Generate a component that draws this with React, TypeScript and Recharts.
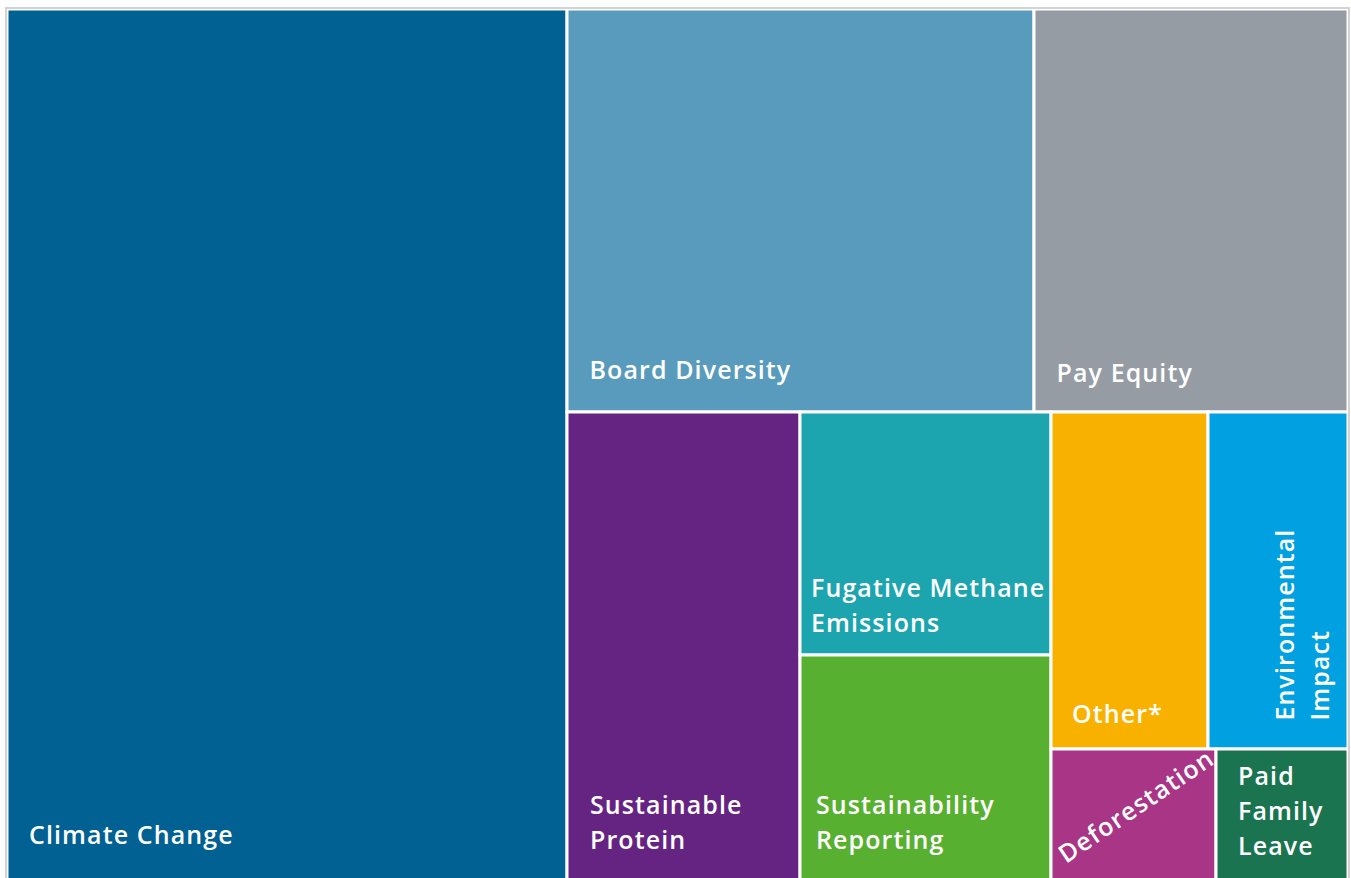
import React from 'react';
import { Treemap } from 'recharts';

// Topics and their share of proposals (percent)
const topicNames = [
  'Climate Change',
  'Board Diversity',
  'Pay Equity',
  'Sustainable Protein',
  'Fugative Methane Emissions',
  'Sustainability Reporting',
  'Other*',
  'Environmental Impact',
  'Deforestation',
  'Paid Family Leave',
];
const topicShares = [41.72, 16.06, 10.81, 9.36, 5.21, 4.88, 4.52, 4.04, 1.88, 1.51];

// grouping of the layout (indexes into the arrays above)
const topLevel = [0, 1, 2];
const midGroup = [3];
const smallGroup = [4, 5, 6, 7, 8, 9];

const leaf = (i: number) => ({ name: topicNames[i], value: topicShares[i] });
const treeData = [
  ...topLevel.map(leaf),
  {
    name: 'rest',
    children: [...midGroup.map(leaf), { name: 'small', children: smallGroup.map(leaf) }],
  },
];

const tileColors: Record<string, string> = {
  'Climate Change': '#006192',
  'Board Diversity': '#589bbc',
  'Pay Equity': '#969ca3',
  'Sustainable Protein': '#662482',
  'Fugative Methane Emissions': '#1ca5ae',
  'Sustainability Reporting': '#58b031',
  'Other*': '#f9b100',
  'Environmental Impact': '#00a0e1',
  'Deforestation': '#a83586',
  'Paid Family Leave': '#1a7450',
};

const labelLines: Record<string, string[]> = {
  'Sustainable Protein': ['Sustainable', 'Protein'],
  'Fugative Methane Emissions': ['Fugative Methane', 'Emissions'],
  'Sustainability Reporting': ['Sustainability', 'Reporting'],
  'Environmental Impact': ['Environmental', 'Impact'],
  'Paid Family Leave': ['Paid', 'Family', 'Leave'],
};

// label anchor: ax from tile left, ay above tile bottom (first line baseline), rotation
const labelPlace: Record<string, { ax: number; ay: number; rot: number }> = {
  'Climate Change': { ax: 22, ay: 38, rot: 0 },
  'Board Diversity': { ax: 22.5, ay: 33, rot: 0 },
  'Pay Equity': { ax: 22.5, ay: 30, rot: 0 },
  'Sustainable Protein': { ax: 23, ay: 68, rot: 0 },
  'Fugative Methane Emissions': { ax: 11, ay: 58, rot: 0 },
  'Sustainability Reporting': { ax: 16, ay: 68, rot: 0 },
  'Other*': { ax: 21, ay: 26, rot: 0 },
  'Environmental Impact': { ax: 85.5, ay: 28.5, rot: -90 },
  'Deforestation': { ax: 15, ay: 18, rot: -34 },
  'Paid Family Leave': { ax: 22, ay: 97, rot: 0 },
};

const LINE_H = 35;

const Tile = (props: any) => {
  const { x, y, width, height, name, children, depth } = props;
  if (depth === 0 || (children && children.length)) return null;
  const lines = labelLines[name] || [name];
  const p = labelPlace[name] || { ax: 20, ay: 30, rot: 0 };
  const ax = x + p.ax;
  const ay = y + height - p.ay;
  return (
    <g>
      <rect
        x={x}
        y={y}
        width={width}
        height={height}
        fill={tileColors[name] || '#888'}
        stroke="#ffffff"
        strokeWidth={3}
      />
      <text
        transform={`translate(${ax},${ay}) rotate(${p.rot})`}
        fill="#ffffff"
        fontFamily="'Open Sans', sans-serif"
        fontWeight={600}
        fontSize={25}
        letterSpacing={1.1}
      >
        {lines.map((ln, i) => (
          <tspan key={i} x={0} y={i * LINE_H}>
            {ln}
          </tspan>
        ))}
      </text>
    </g>
  );
};

export default function App() {
  return (
    <div
      style={{
        position: 'absolute',
        left: 5,
        top: 7,
        width: 1341,
        height: 873,
        border: '2px solid #d3d3d3',
        background: '#fff',
      }}
    >
      <Treemap
        width={1341}
        height={873}
        data={treeData}
        dataKey="value"
        aspectRatio={1.3}
        isAnimationActive={false}
        content={<Tile />}
      />
    </div>
  );
}
